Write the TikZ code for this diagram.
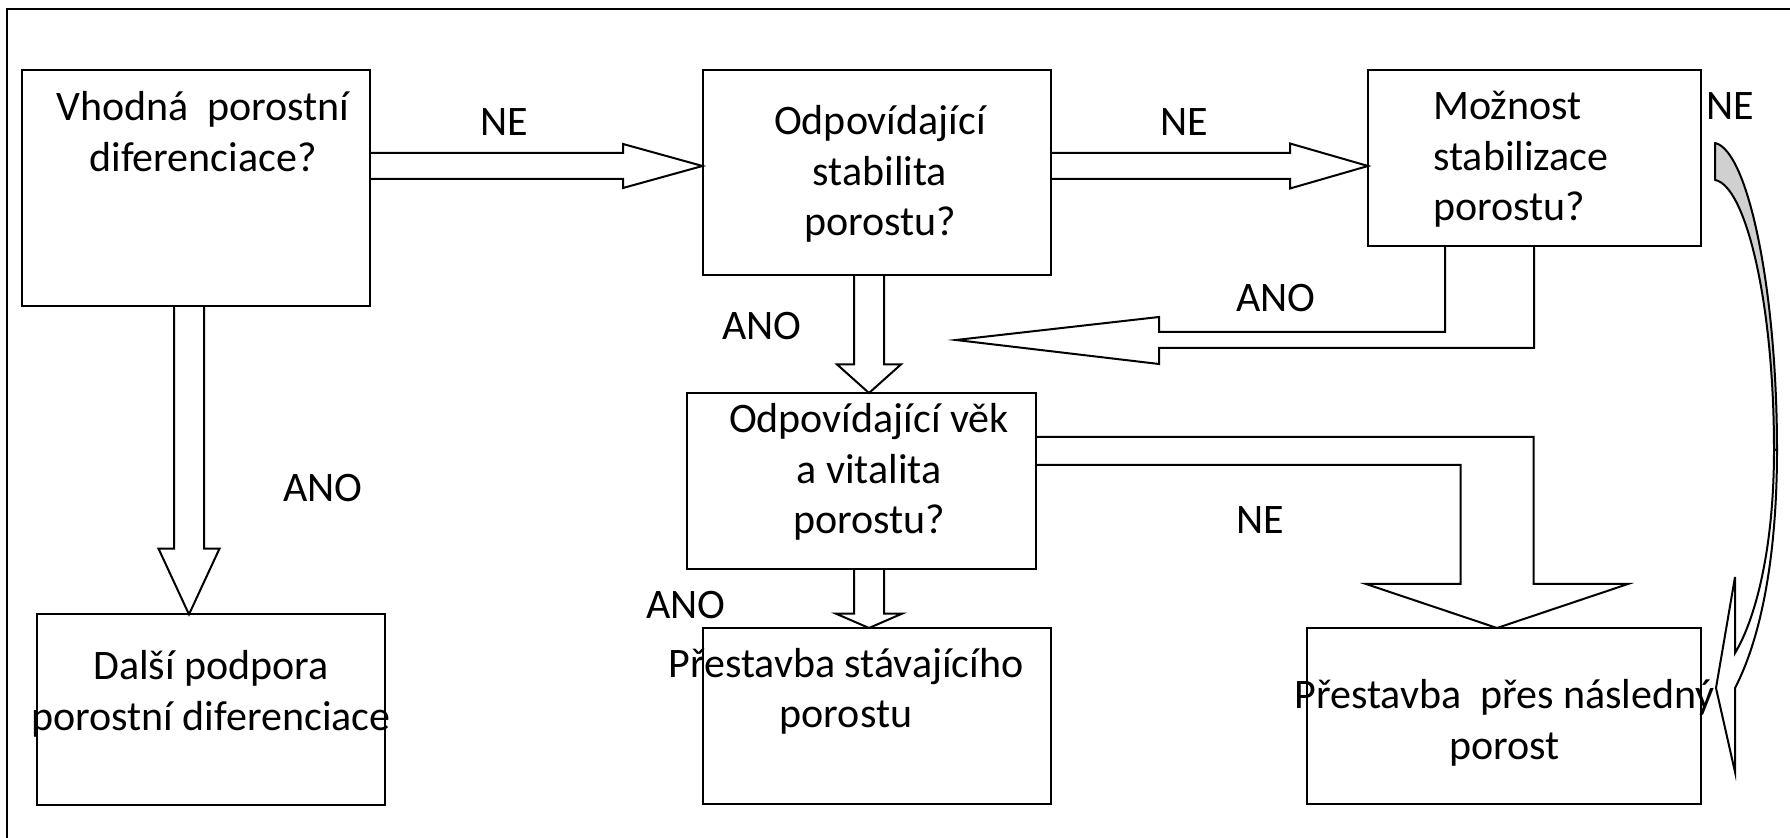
\documentclass[tikz,border=0pt]{standalone}
\usepackage{fontspec}
\setmainfont{Carlito}
\usetikzlibrary{fit}
\definecolor{cgray}{RGB}{208,208,208}
\newcommand\linesC[1]{\begin{tabular}[t]{@{}c@{}}#1\end{tabular}}
\newcommand\linesL[1]{\begin{tabular}[t]{@{}l@{}}#1\end{tabular}}
\begin{document}
\begin{tikzpicture}[x=0.5pt,y=-0.5pt,
  box/.style={draw, line width=1pt, inner sep=0pt},
  txt/.style={inner sep=0pt, font=\fontsize{21}{25.2}\selectfont, anchor=base},
  blk/.style={draw, line width=1pt, fill=white, line join=miter},
]
\useasboundingbox (0,0) rectangle (1790,838);
\clip (0,0) rectangle (1790,838);
% frame
\draw[line width=1pt] (6.5,900) -- (6.5,9) -- (1900,9);

% block arrows (drawn first, boxes on top)
% b1 -> b2 (NE)
\draw[blk] (370,153) -- (623,153) -- (623,144) -- (702.5,166) -- (623,188) -- (623,179) -- (370,179);
% b2 -> b3 (NE)
\draw[blk] (1050.5,153) -- (1290,153) -- (1290,143.5) -- (1368,166) -- (1290,188.5) -- (1290,179) -- (1050.5,179);
% b1 -> b6 (ANO)
\draw[blk] (174,306) -- (174,548.6) -- (158.5,548.6) -- (189,614.4) -- (219.5,548.6) -- (204,548.6) -- (204,306);
% b2 -> b4 (ANO)
\draw[blk] (854,275.5) -- (854,364.4) -- (837,364.4) -- (869,393) -- (901,364.4) -- (884,364.4) -- (884,275.5);
% b4 -> b7 (ANO)
\draw[blk] (854,569.5) -- (854,613.7) -- (836,613.7) -- (869,628) -- (902,613.7) -- (884,613.7) -- (884,569.5);
% b3 -> left (ANO)
\draw[blk] (1445,245.7) -- (1445,332) -- (1159,332) -- (1159,317) -- (956,340) -- (1159,364) -- (1159,348) -- (1534,348) -- (1534,245.7);
% b4 -> b5 (NE)
\draw[blk] (1036,437) -- (1533.5,437) -- (1533.5,584) -- (1628,584) -- (1497,628) -- (1366,584) -- (1460.5,584) -- (1460.5,465) -- (1036,465);

% curved arrow b3 -> b5 (NE)
\coordinate (cs1) at (1715,143);
\coordinate (cs2) at (1715,180);
\coordinate (ctip) at (1716,688);
\path[draw, line width=1pt, fill=cgray, line join=round]
  (cs1) .. controls (1748,150) and (1777,290) .. (1777,450) -- (1774,450)
  .. controls (1774,300) and (1745,185) .. (cs2) -- cycle;
\path[draw, line width=1pt, fill=white, line join=miter]
  (1774,450) .. controls (1774,550) and (1755,620) .. (1735,653)
  -- (1735,577) -- (ctip) -- (1735,772) -- (1735,688)
  .. controls (1760,640) and (1777,560) .. (1777,450) -- cycle;

% boxes
\node[box, fit={(22,70) (370,306)}] (b1) {};
\node[box, fit={(703,70) (1050.5,275.5)}] (b2) {};
\node[box, fit={(1368,70) (1700.5,245.7)}] (b3) {};
\node[box, fit={(687,393) (1036,569.5)}] (b4) {};
\node[box, fit={(1306.5,628) (1700.7,804)}] (b5) {};
\node[box, fit={(37,614.4) (384.8,805.5)}] (b6) {};
\node[box, fit={(702.7,628) (1050.7,804)}] (b7) {};

% texts
\node[txt] (t1) at (203,121) {\linesC{Vhodná~ porostní\\diferenciace?}};
\node[txt] (t2) at (880,135) {\linesC{Odpovídající\\stabilita\\porostu?}};
\node[txt, anchor=base west] (t3) at (1433,120) {\linesL{Možnost\\stabilizace\\porostu?}};
\node[txt] (t4) at (869,433) {\linesC{Odpovídající věk\\a vitalita\\porostu?}};
\node[txt] (t5) at (1504.5,709) {\linesC{Přestavba~ přes následný\\porost}};
\node[txt] (t6) at (211,680) {\linesC{Další podpora\\porostní diferenciace}};
\node[txt] (t7) at (846,677.5) {\linesC{Přestavba stávajícího\\porostu}};

% labels
\node[txt] (l1) at (504,136) {NE};
\node[txt] (l2) at (1184,136) {NE};
\node[txt] (l3) at (1730,120) {NE};
\node[txt] (l4) at (323,501.5) {ANO};
\node[txt] (l5) at (762,340) {ANO};
\node[txt] (l6) at (1276,311.5) {ANO};
\node[txt] (l7) at (1260,533.5) {NE};
\node[txt] (l8) at (686,619) {ANO};
\end{tikzpicture}
\end{document}
